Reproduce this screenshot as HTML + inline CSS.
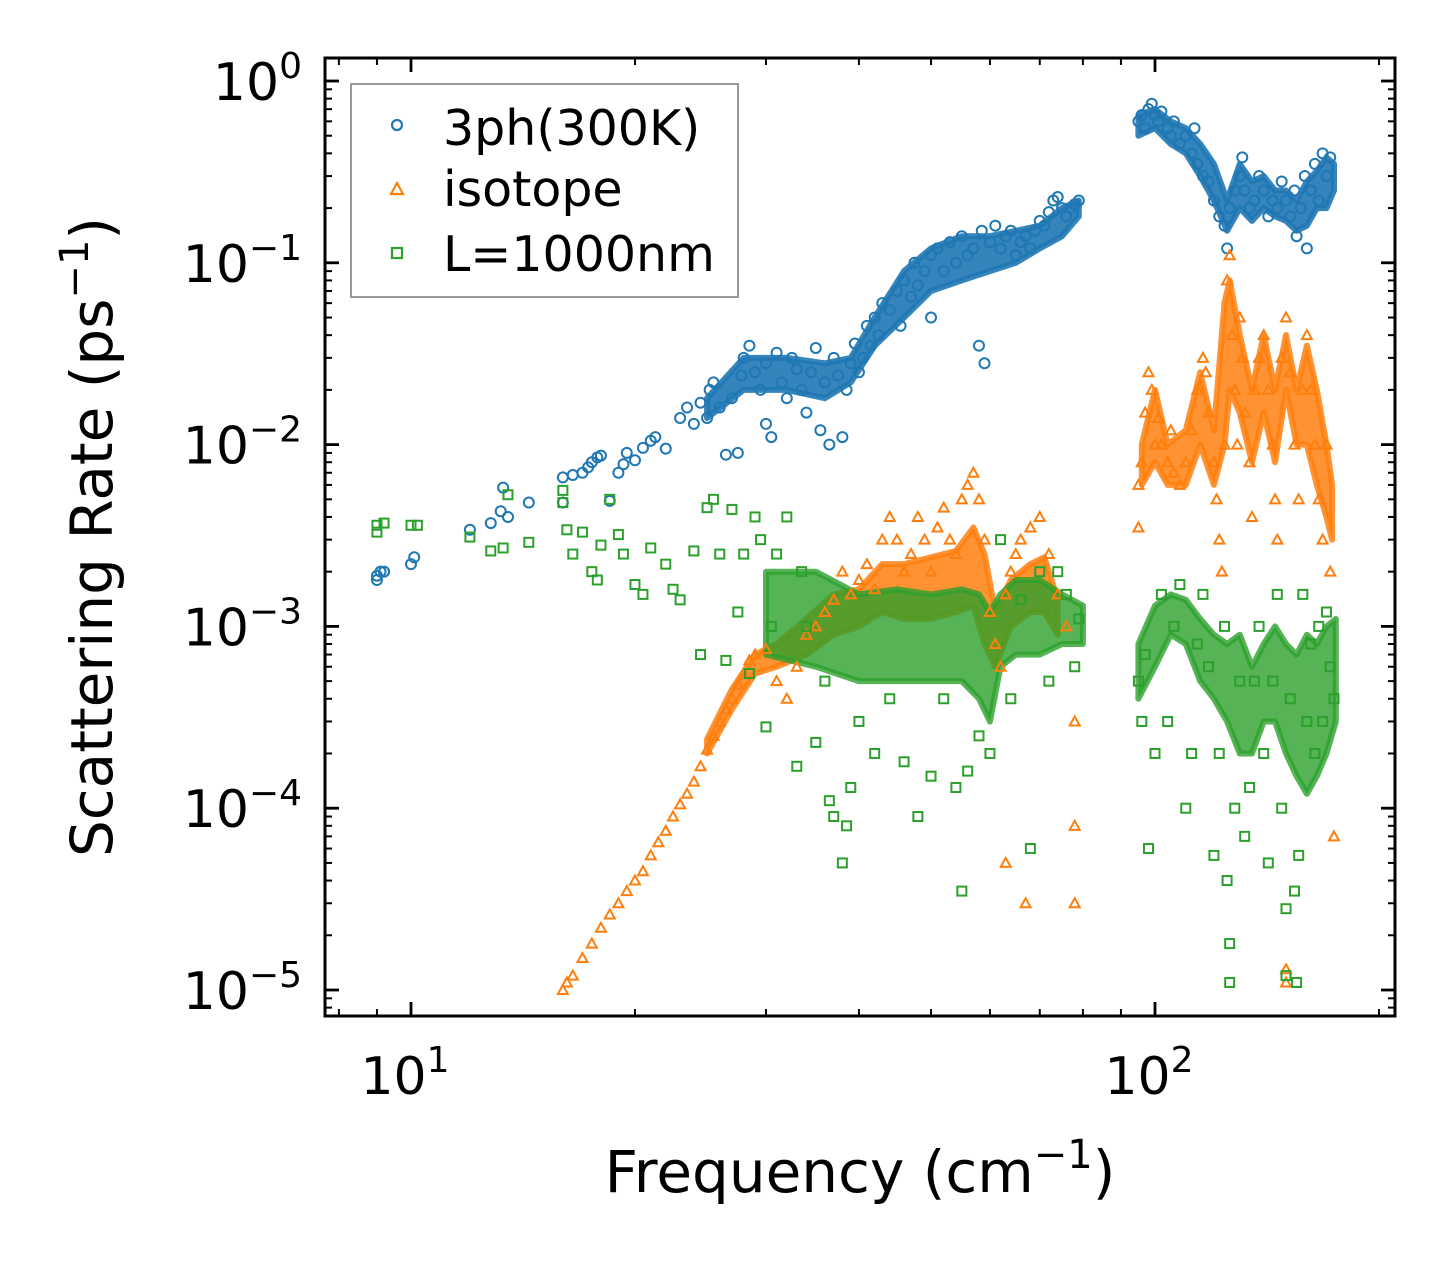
<!DOCTYPE html>
<html><head><meta charset="utf-8"><style>
html,body{margin:0;padding:0;background:#fff}
svg{display:block;font-family:"DejaVu Sans","Liberation Sans",sans-serif}
</style></head><body>
<svg id="chart" width="1455" height="1265" viewBox="0 0 1455 1265" xmlns="http://www.w3.org/2000/svg">
<rect width="1455" height="1265" fill="#fff"/>
<g id="bands"></g>
<g id="pts"></g>
<g id="axes"></g>
<text x="860" y="1192" font-size="58" text-anchor="middle">Frequency (cm<tspan dy="-24" font-size="40">−1</tspan><tspan dy="24">)</tspan></text>
<text transform="translate(112,537) rotate(-90)" font-size="58" text-anchor="middle">Scattering Rate (ps<tspan dy="-24" font-size="40">−1</tspan><tspan dy="24">)</tspan></text>
<g>
<rect x="351" y="84" width="387" height="213" fill="#fff" stroke="#999" stroke-width="2"/>
<circle cx="397" cy="125" r="5" fill="none" stroke="#1f77b4" stroke-width="2.2"/>
<text x="443" y="145" font-size="49">3ph(300K)</text>
<path d="M397,183 L403,194 L391,194 Z" fill="none" stroke="#ff7f0e" stroke-width="2.2"/>
<text x="443" y="206" font-size="49">isotope</text>
<rect x="392" y="248" width="10" height="10" fill="none" stroke="#2ca02c" stroke-width="2.2"/>
<text x="443" y="271" font-size="49">L=1000nm</text>
</g>
</svg>
<script>
// ---- data ----
const blueX=[9,9,9.1,9.2,10,10.1,12,12.8,13.2,13.3,13.5,14.4,16,16,16.5,17,17.3,17.5,17.8,18,18.5,19,19.3,19.5,20,20.5,21,21.3,22,23,23.5,24,24.5,25,25.2,25.5,26,26.5,27,27.5,27.8,28,28.5,29,29.5,30,30,30.5,31,31.5,32,32.5,33,33.5,34,34.5,35,35.5,36,36.5,37,37.5,38,38.5,39,39.5,40,40.5,41,41.5,42,42.5,43,44,45,45.5,46,47,47.5,48,49,50,50,51,52,53,54,55,56,57,58,58.5,59,60,61,62,63,64,65,66,67,68,69,70,71,72,73,74,75,76,77,78,79,95,96,97,98,99,100,101,102,104,105,106,108,110,112,113,114,116,118,120,122,124,125,126,128,130,131,132,134,136,138,140,142,144,146,148,150,152,154,155,157,159,160,162,164,166,168,170,172];
const blueY=[0.0018,0.0019,0.002,0.002,0.0022,0.0024,0.0034,0.0037,0.0043,0.0058,0.004,0.0048,0.0048,0.0066,0.0068,0.007,0.0075,0.008,0.0085,0.0087,0.0049,0.007,0.0078,0.009,0.0082,0.0096,0.0105,0.011,0.0095,0.014,0.016,0.013,0.017,0.014,0.02,0.022,0.016,0.0088,0.018,0.009,0.024,0.03,0.035,0.025,0.02,0.013,0.028,0.011,0.032,0.022,0.018,0.03,0.026,0.02,0.015,0.025,0.034,0.012,0.022,0.01,0.03,0.024,0.011,0.02,0.028,0.036,0.025,0.03,0.045,0.035,0.05,0.04,0.06,0.055,0.07,0.045,0.08,0.065,0.1,0.075,0.09,0.11,0.05,0.12,0.09,0.13,0.1,0.14,0.11,0.12,0.035,0.15,0.028,0.13,0.16,0.12,0.14,0.15,0.11,0.13,0.14,0.12,0.15,0.17,0.16,0.19,0.22,0.23,0.2,0.18,0.2,0.21,0.22,0.6,0.65,0.55,0.7,0.75,0.65,0.6,0.68,0.55,0.5,0.6,0.45,0.5,0.4,0.55,0.35,0.3,0.28,0.22,0.18,0.16,0.12,0.2,0.25,0.3,0.38,0.25,0.2,0.22,0.3,0.25,0.18,0.22,0.2,0.28,0.22,0.18,0.25,0.14,0.2,0.3,0.12,0.25,0.35,0.22,0.4,0.3,0.38];
const blueBandX=[[25,28,32,36,39,42,46,50,55,60,65,70,75,79],[95,100,105,110,115,120,125,130,135,140,145,150,155,160,165,170,174]];
const blueBandLo=[[0.014,0.02,0.02,0.018,0.022,0.035,0.05,0.07,0.08,0.09,0.1,0.12,0.14,0.18],[0.5,0.55,0.45,0.4,0.3,0.22,0.15,0.2,0.17,0.2,0.18,0.17,0.15,0.16,0.2,0.2,0.25]];
const blueBandHi=[[0.018,0.03,0.03,0.028,0.03,0.05,0.09,0.12,0.14,0.14,0.15,0.16,0.2,0.22],[0.65,0.7,0.6,0.55,0.45,0.35,0.22,0.35,0.28,0.3,0.25,0.25,0.22,0.28,0.32,0.38,0.35]];

const orangeX=[16,16.2,16.5,17,17.5,18,18.5,19,19.5,20,20.5,21,21.5,22,22.5,23,23.5,24,24.5,25,25.5,26,26.5,27,27.5,28,28.5,29,30,31,32,33,34,35,36,37,38,39,40,41,42,43,44,45,46,47,48,49,50,51,52,53,54,55,56,57,58,59,60,61,62,63,64,65,66,68,70,72,74,76,78,78,78,63,67,95,95,96,97,98,99,100,101,102,104,105,106,108,110,112,114,116,117,118,120,121,122,123,124,125,126,127,128,129,130,131,132,134,135,136,138,140,142,144,145,146,148,150,152,154,156,158,160,162,164,166,168,170,172,174,150,150];
const orangeY=[1.0e-5,1.1e-5,1.2e-5,1.5e-5,1.8e-5,2.2e-5,2.6e-5,3e-5,3.5e-5,4e-5,4.5e-5,5.5e-5,6.5e-5,7.5e-5,9e-5,1.05e-4,1.2e-4,1.4e-4,1.7e-4,2.1e-4,2.5e-4,3e-4,3.5e-4,4e-4,4.8e-4,5.5e-4,6.5e-4,7e-4,7.5e-4,5e-4,4e-4,6e-4,9e-4,1e-3,1.2e-3,1.4e-3,2e-3,1.5e-3,1.8e-3,2.2e-3,1.6e-3,3e-3,4e-3,3e-3,2e-3,2.5e-3,4e-3,3e-3,2e-3,3.5e-3,4.5e-3,3e-3,2.5e-3,5e-3,6e-3,7e-3,5e-3,3e-3,1.2e-3,8e-4,6e-4,1.5e-3,2e-3,2.5e-3,3e-3,3.5e-3,4e-3,2.5e-3,1.5e-3,1e-3,3e-4,8e-5,3e-5,5e-5,3e-5,3.5e-3,6e-3,8e-3,1.5e-2,2.5e-2,2e-2,1e-2,1.4e-2,1e-2,8e-3,1.2e-2,7e-3,6e-3,8e-3,1.2e-2,2e-2,3e-2,2.5e-2,1.5e-2,8e-3,5e-3,3e-3,2e-3,1e-2,8e-2,0.11,4e-2,2e-2,1e-2,5e-2,3e-2,1.5e-2,8e-3,4e-3,2e-2,3e-2,4e-2,2e-2,1e-2,5e-3,3e-3,3e-2,5e-2,2.5e-2,1e-2,5e-3,2e-2,4e-2,2e-2,1e-2,5e-3,3e-3,1e-2,2e-3,7e-5,1.3e-5,1.1e-5];
const orangeBandX=[[25,27,29,31,34,37,40,43,46,50,54,57,59,61,64,68,71,74],[96,100,104,110,115,120,124,126,130,135,140,145,150,155,160,165,170,173]];
const orangeBandLo=[[2e-4,3.5e-4,5.5e-4,6e-4,7e-4,9e-4,1e-3,1.2e-3,1.1e-3,1.1e-3,1.2e-3,1.3e-3,8e-4,6e-4,1e-3,1.2e-3,1.2e-3,9e-4],[0.006,0.008,0.006,0.006,0.01,0.006,0.01,0.02,0.015,0.008,0.015,0.008,0.02,0.01,0.01,0.006,0.004,0.003]];
const orangeBandHi=[[2.4e-4,4.5e-4,7e-4,8e-4,1.1e-3,1.5e-3,1.6e-3,2.2e-3,2.2e-3,2.4e-3,2.6e-3,3.5e-3,2.5e-3,1.2e-3,1.8e-3,2.2e-3,2.4e-3,1.4e-3],[0.01,0.02,0.01,0.012,0.025,0.012,0.06,0.08,0.04,0.02,0.04,0.02,0.04,0.02,0.035,0.02,0.01,0.006]];

const greenX=[9,9,9.2,10,10.2,12,12.8,13.3,13.5,14.4,16,16,16.2,16.5,17,17.5,17.8,18,18.5,19,19.3,20,20.5,21,22,22.5,23,24,24.5,25,25.5,26,26.5,27,27.5,28,28.5,29,29.5,30,30.5,31,32,33,33.5,34,35,36,36.5,37,38,38.5,39,40,42,44,46,48,50,52,54,55,56,58,60,62,64,66,68,70,72,74,76,78,79,95,96,97,98,100,102,104,106,108,110,112,114,116,118,120,122,124,125,126,126,128,130,132,134,136,138,140,142,144,146,148,150,150,152,154,155,156,158,160,162,164,166,168,170,172,174];
const greenY=[3.3e-3,3.6e-3,3.7e-3,3.6e-3,3.6e-3,3.1e-3,2.6e-3,2.7e-3,5.3e-3,2.9e-3,5.6e-3,4.8e-3,3.4e-3,2.5e-3,3.3e-3,2.0e-3,1.8e-3,2.8e-3,5.0e-3,3.2e-3,2.5e-3,1.7e-3,1.5e-3,2.7e-3,2.2e-3,1.6e-3,1.4e-3,2.6e-3,7e-4,4.5e-3,5e-3,2.5e-3,6.5e-4,4.4e-3,1.2e-3,2.5e-3,5.5e-4,4e-3,3e-3,2.8e-4,1e-3,2.5e-3,4e-3,1.7e-4,2e-3,1e-3,2.3e-4,5e-4,1.1e-4,9e-5,5e-5,8e-5,1.3e-4,3e-4,2e-4,4e-4,1.8e-4,9e-5,1.5e-4,4e-4,1.3e-4,3.5e-5,1.6e-4,2.5e-4,2e-4,3e-3,4e-4,1.4e-3,6e-5,2e-3,5e-4,2e-3,1.5e-3,6e-4,1.1e-3,5e-4,3e-4,7e-4,6e-5,2e-4,1.5e-3,3e-4,1e-3,1.7e-3,1e-4,2e-4,8e-4,1.5e-3,6e-4,5.5e-5,2e-4,1e-3,4e-5,1.8e-5,1.1e-5,1e-4,5e-4,7e-5,1.3e-4,5e-4,1e-3,2e-4,5e-5,5e-4,1.5e-3,1e-4,2.8e-5,1.2e-5,4e-4,3.5e-5,1.1e-5,5.5e-5,1.5e-3,3e-4,8e-4,2e-4,1e-3,3e-4,1.2e-3,6e-4,4e-4];
const greenBandX=[[30,35,40,45,50,55,58,60,62,65,70,75,80],[95,100,105,110,115,120,125,130,135,140,145,150,155,160,165,170,175]];
const greenBandLo=[[7e-4,6e-4,5e-4,5e-4,5e-4,5e-4,4e-4,3e-4,6e-4,7e-4,7e-4,8e-4,8e-4],[4e-4,6e-4,9e-4,8e-4,5e-4,4e-4,3e-4,2e-4,2e-4,3e-4,3e-4,2e-4,1.5e-4,1.2e-4,1.5e-4,2e-4,3e-4]];
const greenBandHi=[[2e-3,2e-3,1.5e-3,1.6e-3,1.5e-3,1.6e-3,1.5e-3,1.2e-3,1.5e-3,1.8e-3,1.8e-3,1.5e-3,1.3e-3],[8e-4,1.3e-3,1.5e-3,1.4e-3,1.1e-3,9e-4,8e-4,9e-4,6e-4,8e-4,1e-3,8e-4,7e-4,9e-4,8e-4,1e-3,1.1e-3]];

const xTickVals=[10,100];
const xTickLabels=["1","2"];
const yTickVals=[1,0.1,0.01,0.001,0.0001,0.00001];
const yTickLabels=["0","−1","−2","−3","−4","−5"];

// ---- axes ----
const L=325,R=1395,T=58,B=1016;
const X0=411,XD=744, Y0=81,YD=181.8;
function sx(v){return X0+Math.log10(v)*XD-XD;}
function sy(v){return Y0-Math.log10(v)*YD;}
const NS="http://www.w3.org/2000/svg";
function mk(tag,attrs,parent){const e=document.createElementNS(NS,tag);for(const k in attrs)e.setAttribute(k,attrs[k]);parent.appendChild(e);return e;}

const bands=document.getElementById('bands');
function drawBand(xs,lo,hi,color,name,op){
  for(let s=0;s<xs.length;s++){
    let d='';
    xs[s].forEach((x,i)=>{d+=(i?'L':'M')+sx(x).toFixed(1)+','+sy(hi[s][i]).toFixed(1);});
    for(let i=xs[s].length-1;i>=0;i--)d+='L'+sx(xs[s][i]).toFixed(1)+','+sy(lo[s][i]).toFixed(1);
    const p=mk('path',{d:d+'Z',fill:color,stroke:color,'stroke-width':6,'stroke-linejoin':'round','fill-opacity':op,'stroke-opacity':op},bands);
    
    
  }
}
const pts=document.getElementById('pts');
function drawPts(xs,ys,color,shape,name){
  const g=mk('g',{},pts);
  
  
  xs.forEach((x,i)=>{
    const cx=sx(x),cy=sy(ys[i]);let e;
    if(shape==='c')e=mk('circle',{cx:cx,cy:cy,r:5,fill:'none',stroke:color,'stroke-width':2},g);
    else if(shape==='t')e=mk('path',{d:`M${cx},${cy-5}L${cx+5},${cy+4}L${cx-5},${cy+4}Z`,fill:'none',stroke:color,'stroke-width':2},g);
    else e=mk('rect',{x:cx-4.5,y:cy-4.5,width:9,height:9,fill:'none',stroke:color,'stroke-width':2},g);
    
    
  });
}
drawBand(blueBandX,blueBandLo,blueBandHi,'#1f77b4','3ph',0.9);
drawPts(blueX,blueY,'#1f77b4','c','3ph');
drawBand(orangeBandX,orangeBandLo,orangeBandHi,'#ff7f0e','isotope',0.85);
drawPts(orangeX,orangeY,'#ff7f0e','t','isotope');
drawBand(greenBandX,greenBandLo,greenBandHi,'#2ca02c','l1000',0.8);
drawPts(greenX,greenY,'#2ca02c','s','l1000');

const ax=document.getElementById('axes');
mk('rect',{x:L,y:T,width:R-L,height:B-T,fill:'none',stroke:'#000','stroke-width':3},ax);
for(let dec=1;dec<=100;dec*=10){for(let m=1;m<10;m++){const v=dec*m;const x=sx(v);if(x<L||x>R)continue;const len=m===1?14:7;
  mk('line',{x1:x,y1:B,x2:x,y2:B-len,stroke:'#000','stroke-width':m===1?2.8:2},ax);
  mk('line',{x1:x,y1:T,x2:x,y2:T+len,stroke:'#000','stroke-width':m===1?2.8:2},ax);}}
xTickVals.forEach((v,i)=>{const t=mk('text',{x:sx(v)-6,y:1094,'font-size':52,'text-anchor':'middle'},ax);
  
  
  t.innerHTML='10<tspan dy="-22" font-size="36">'+xTickLabels[i]+'</tspan>';});
for(let dec=1e-6;dec<=1;dec*=10){for(let m=1;m<10;m++){const v=dec*m;const y=sy(v);if(y<T||y>B)continue;const len=m===1?14:7;
  mk('line',{x1:L,y1:y,x2:L+len,y2:y,stroke:'#000','stroke-width':m===1?2.8:2},ax);
  mk('line',{x1:R,y1:y,x2:R-len,y2:y,stroke:'#000','stroke-width':m===1?2.8:2},ax);}}
yTickVals.forEach((v,i)=>{const t=mk('text',{x:302,y:sy(v)+19,'font-size':52,'text-anchor':'end'},ax);
  
  
  t.innerHTML='10<tspan dy="-22" font-size="36">'+yTickLabels[i]+'</tspan>';});
</script>
</body></html>
